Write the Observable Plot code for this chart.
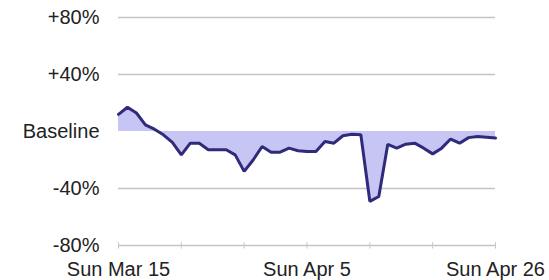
<!DOCTYPE html>
<html>
<head>
<meta charset="utf-8">
<script src="https://cdn.jsdelivr.net/npm/d3@7"></script>
<script src="https://cdn.jsdelivr.net/npm/@observablehq/plot@0.6"></script>
<style>
  html, body { margin: 0; padding: 0; background: #fff; }
  #chart svg { display: block; }
</style>
</head>
<body>
<div id="chart"></div>
<script>
const dates = [
  "2020-03-15","2020-03-16","2020-03-17","2020-03-18","2020-03-19","2020-03-20","2020-03-21",
  "2020-03-22","2020-03-23","2020-03-24","2020-03-25","2020-03-26","2020-03-27","2020-03-28",
  "2020-03-29","2020-03-30","2020-03-31","2020-04-01","2020-04-02","2020-04-03","2020-04-04",
  "2020-04-05","2020-04-06","2020-04-07","2020-04-08","2020-04-09","2020-04-10","2020-04-11",
  "2020-04-12","2020-04-13","2020-04-14","2020-04-15","2020-04-16","2020-04-17","2020-04-18",
  "2020-04-19","2020-04-20","2020-04-21","2020-04-22","2020-04-23","2020-04-24","2020-04-25",
  "2020-04-26"
];
const values = [
  12, 17, 13, 4.7, 1.6, -2.3, -7.7,
  -16.4, -8.2, -8.2, -12.8, -12.8, -12.8, -16.4,
  -28, -20, -10.5, -14.5, -14.5, -11.7, -13.5,
  -14, -14, -7, -8.2, -3, -2, -2.3,
  -49, -45.6, -9, -11.7, -8.9, -8.2, -11.7, -15.7,
  -11.7, -5.3, -8.2, -4.3, -3.5, -4, -4.6
];
const yTicks = [-80, -40, 0, 40, 80];
const yTickLabels = ["-80%", "-40%", "Baseline", "+40%", "+80%"];
const yGrid = [-80, -40, 40, 80];
const xTicks = ["2020-03-15","2020-03-22","2020-03-29","2020-04-05","2020-04-12","2020-04-19","2020-04-26"];
const xTickLabels = ["Sun Mar 15", "", "", "Sun Apr 5", "", "", "Sun Apr 26"];

const data = dates.map((d, i) => ({date: new Date(d), value: values[i]}));
const xTickDates = xTicks.map(d => new Date(d));
const xLabelMap = new Map(xTicks.map((d, i) => [new Date(d).getTime(), xTickLabels[i]]));
const yLabelMap = new Map(yTicks.map((v, i) => [v, yTickLabels[i]]));

const chart = Plot.plot({
  width: 549,
  height: 280,
  marginLeft: 118,
  marginRight: 54,
  marginTop: 17,
  marginBottom: 35,
  style: {fontFamily: "'Liberation Sans', Arial, sans-serif", fontSize: "20px", color: "#222", background: "#fff"},
  x: {type: "utc", label: null, domain: [new Date(dates[0]), new Date(dates[dates.length - 1])]},
  y: {label: null, domain: [-80, 80]},
  marks: [
    Plot.ruleY(yGrid, {y: d => d, stroke: "#c4c4c4", strokeWidth: 1.5}),
    Plot.ruleX(xTickDates, {x: d => d, y1: -82.5, y2: -78, stroke: "#c8c8c8", strokeWidth: 1}),
    Plot.areaY(data, {x: "date", y1: 0, y2: "value", fill: "#c6c5f4"}),
    Plot.lineY(data, {x: "date", y: "value", stroke: "#2f2a7c", strokeWidth: 3, strokeLinejoin: "miter"}),
    Plot.axisY({ticks: yTicks, tickFormat: v => yLabelMap.get(v), tickSize: 0, tickPadding: 19, fontSize: 20, fill: "#222"}),
    Plot.axisX({ticks: xTickDates, tickFormat: d => xLabelMap.get(d.getTime()), tickSize: 0, tickPadding: 16, fontSize: 20, fill: "#222"})
  ]
});
document.getElementById("chart").appendChild(chart);
</script>
</body>
</html>
